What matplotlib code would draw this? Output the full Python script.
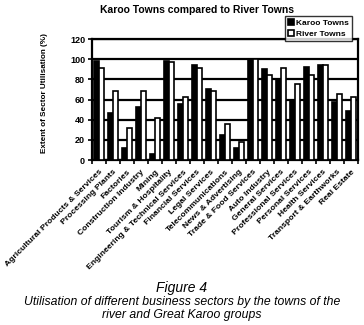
import numpy as np
import matplotlib
matplotlib.use("Agg")
import matplotlib.pyplot as plt

plt.rcParams['font.family'] = ['Liberation Sans', 'DejaVu Sans']

sectors = ["Agricultural Products & Services", "Processing Plants", "Factories",
           "Construction Industry", "Mining", "Tourism & Hospitality",
           "Engineering & Technical Services", "Financial Services", "Legal Services",
           "Telecommunications", "News & Advertising", "Trade & Food Services",
           "Auto Industry", "General Services", "Professional Services",
           "Personal Services", "Health Services", "Transport & Earthworks",
           "Real Estate"]
karoo = [98, 47, 12, 53, 6, 98, 56, 94, 70, 25, 12, 100, 90, 80, 60, 92, 94, 58, 49]
river = [91, 68, 32, 68, 42, 97, 62, 91, 68, 36, 18, 100, 84, 91, 75, 84, 94, 65, 62]
yticks = [0, 20, 40, 60, 80, 100, 120]

W, H = 364, 325
fig = plt.figure(figsize=(W / 100, H / 100), dpi=100)
ax = fig.add_axes([92 / W, 1 - 160 / H, (358 - 92) / W, (160 - 39) / H])

x = np.arange(len(sectors))
bw = 0.37
ax.bar(x - bw / 2, karoo, bw, color='black', edgecolor='black', lw=1.2,
       label='Karoo Towns', zorder=3)
ax.bar(x + bw / 2, river, bw, color='white', edgecolor='black', lw=1.2,
       label='River Towns', zorder=3)

ax.set_xlim(-0.5, len(sectors) - 0.5)
ax.set_ylim(0, 120)
ax.set_yticks(yticks)
ax.set_yticklabels([str(v) for v in yticks], fontsize=6.5, fontweight='bold')
ax.yaxis.grid(True, color='black', lw=1.6, zorder=0)
ax.set_axisbelow(True)
ax.tick_params(axis='y', length=3, width=1.2, pad=2)

ax.set_xticks(x)
ax.set_xticklabels(sectors, rotation=45, ha='right', rotation_mode='anchor',
                   fontsize=6.1, fontweight='bold')
ax.tick_params(axis='x', which='major', length=0, pad=6)
ax.set_xticks(np.arange(len(sectors) + 1) - 0.5, minor=True)
ax.tick_params(axis='x', which='minor', length=3, width=1.2, direction='out')

for s in ax.spines.values():
    s.set_linewidth(1.6)

fig.text(45 / W, 1 - 93 / H, 'Extent of Sector Utilisation (%)', rotation=90,
         ha='center', va='center', fontsize=5.9, fontweight='bold')

fig.text(197 / W, 1 - 10 / H, 'Karoo Towns compared to River Towns',
         ha='center', va='center', fontsize=7.5, fontweight='bold')

leg = ax.legend(loc='upper right', bbox_to_anchor=(352 / W, 1 - 16 / H),
                bbox_transform=fig.transFigure, fontsize=6, frameon=True,
                fancybox=False, edgecolor='black', handlelength=0.7,
                handleheight=0.7, handletextpad=0.3, borderpad=0.35,
                labelspacing=0.4, borderaxespad=0)
leg.get_frame().set_linewidth(1.0)
for t in leg.get_texts():
    t.set_fontweight('bold')
leg.set_zorder(5)

fig.text(182 / W, 1 - 288 / H, 'Figure 4', ha='center', va='center',
         fontsize=10, style='italic')
fig.text(182 / W, 1 - 302.5 / H,
         'Utilisation of different business sectors by the towns of the',
         ha='center', va='center', fontsize=8.8, style='italic')
fig.text(182 / W, 1 - 315 / H, 'river and Great Karoo groups',
         ha='center', va='center', fontsize=8.8, style='italic')

fig.savefig('out.png', dpi=100)
